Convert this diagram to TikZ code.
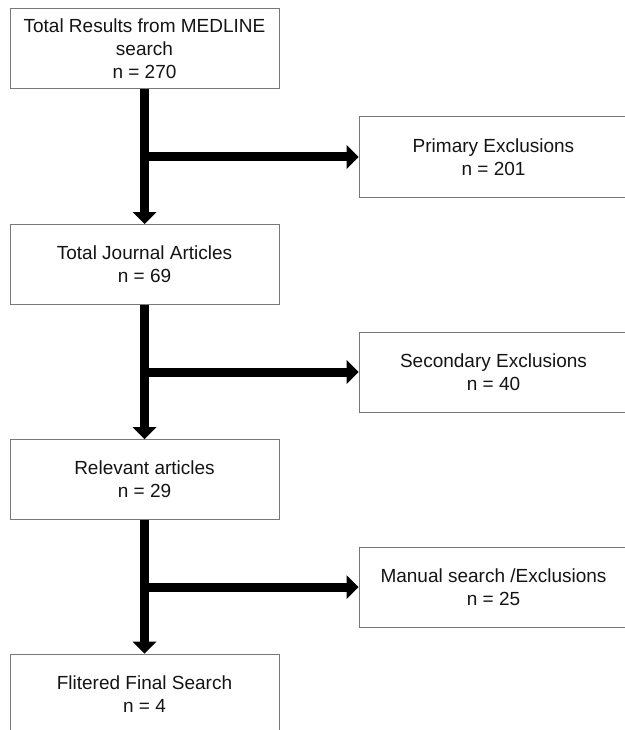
\documentclass[tikz,border=0pt]{standalone}
\usepackage{fontspec}
\setmainfont{Liberation Sans}
\usetikzlibrary{arrows.meta}
\definecolor{boxgray}{RGB}{120,120,120}
\definecolor{txt}{RGB}{20,20,20}
\begin{document}
\begin{tikzpicture}[x=1pt,y=-1pt,
  box/.style={draw=boxgray, line width=1pt, minimum width=269pt, minimum height=80pt,
    inner sep=0pt, align=center, text=txt, font=\fontsize{19}{23}\selectfont},
  flow/.style={line width=9pt, -{Triangle[length=12pt,width=24pt,line width=0pt]}}]
\useasboundingbox (0,0) rectangle (624,730);
\node[box] (b1) at (144.5,49) {Total Results from MEDLINE\\search\\n = 270};
\node[box] (b2) at (493.5,157) {Primary Exclusions\\n = 201};
\node[box] (b3) at (144.5,264.5) {Total Journal Articles\\n = 69};
\node[box] (b4) at (493.5,372) {Secondary Exclusions\\n = 40};
\node[box] (b5) at (144.5,479.5) {Relevant articles\\n = 29};
\node[box] (b6) at (493.5,587) {Manual search /Exclusions\\n = 25};
\node[box] (b7) at (144.5,694) {Flitered Final Search\\n = 4};
\coordinate (j1) at (b1.south |- b2.west);
\coordinate (j2) at (b3.south |- b4.west);
\coordinate (j3) at (b5.south |- b6.west);
\draw[flow] (b1.south) -- (b3.north);
\draw[flow] (b3.south) -- (b5.north);
\draw[flow] (b5.south) -- (b7.north);
\draw[flow] (j1) -- (b2.west);
\draw[flow] (j2) -- (b4.west);
\draw[flow] (j3) -- (b6.west);
\end{tikzpicture}
\end{document}
